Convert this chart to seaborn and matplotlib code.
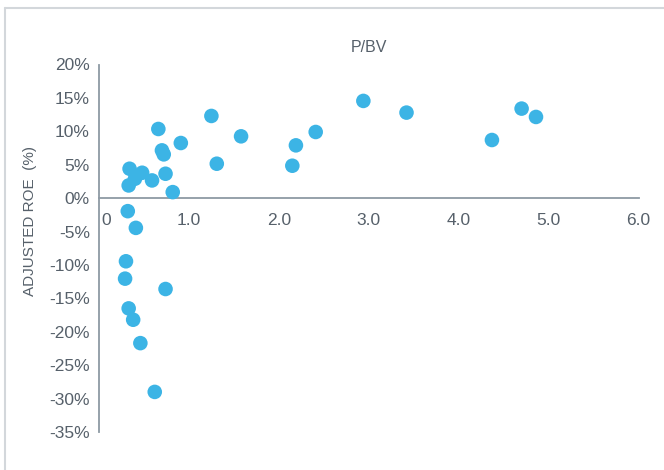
import matplotlib
matplotlib.use("Agg")
import matplotlib.pyplot as plt
import matplotlib.lines as mlines
import matplotlib.transforms as mtrans
import seaborn as sns
import pandas as pd

# -----------------------------------------------------------
# Data
# -----------------------------------------------------------
pbv = [0.66, 1.25, 0.91, 0.70, 0.72, 1.58, 1.31, 0.34, 0.48, 0.40, 0.74, 0.59,
       0.33, 0.82, 2.19, 2.15, 2.41, 2.94, 3.42, 4.37, 4.70, 4.86, 0.32, 0.41,
       0.30, 0.29, 0.74, 0.33, 0.38, 0.46, 0.62]
roe = [10.35, 12.3, 8.25, 7.15, 6.55, 9.25, 5.15, 4.4, 3.8, 2.9, 3.65, 2.65,
       1.9, 0.9, 7.9, 4.85, 9.9, 14.55, 12.8, 8.7, 13.4, 12.15, -1.95, -4.45,
       -9.45, -12.05, -13.6, -16.5, -18.2, -21.7, -29.0]

x_ticks = [0, 1, 2, 3, 4, 5, 6]
x_labels = ["0", "1.0", "2.0", "3.0", "4.0", "5.0", "6.0"]
y_ticks = [20, 15, 10, 5, 0, -5, -10, -15, -20, -25, -30, -35]
y_labels = [f"{v}%" for v in y_ticks]

df = pd.DataFrame({"pbv": pbv, "roe": roe})

# -----------------------------------------------------------
# Style
# -----------------------------------------------------------
sns.set_style("white")
plt.rcParams["font.family"] = ["Liberation Sans", "DejaVu Sans"]

AXIS_COL = "#8d9aa4"
TEXT_COL = "#56606a"
DOT_COL = "#3cb4e5"

fig = plt.figure(figsize=(6.64, 4.70), dpi=100)
ax = fig.add_axes([99 / 664, 38 / 470, 539.5 / 664, 367.5 / 470])

sns.scatterplot(data=df, x="pbv", y="roe", ax=ax, color=DOT_COL,
                s=110, edgecolor="none", linewidth=0, clip_on=False, zorder=3)

ax.set_xlim(0, 6)
ax.set_ylim(-35, 20)

# spines: left at x=0, bottom crossing at y=0
ax.spines["top"].set_visible(False)
ax.spines["right"].set_visible(False)
ax.spines["bottom"].set_position(("data", 0))
for side in ["left", "bottom"]:
    ax.spines[side].set_color(AXIS_COL)
    ax.spines[side].set_linewidth(1.3)

ax.set_xticks(x_ticks)
ax.set_xticklabels(x_labels)
ax.set_yticks(y_ticks)
ax.set_yticklabels(y_labels)
ax.tick_params(axis="both", direction="out", length=5.5, width=1.3,
               color=AXIS_COL, labelcolor=TEXT_COL, labelsize=12.5)
ax.tick_params(axis="x", pad=5)
ax.tick_params(axis="y", pad=1)

# nudge the "0" label away from the y axis
lbl0 = ax.get_xticklabels()[0]
lbl0.set_transform(lbl0.get_transform() + mtrans.ScaledTranslation(7 / 100, 0, fig.dpi_scale_trans))

ax.set_xlabel("")
ax.set_ylabel("")
ax.set_title("P/BV", color=TEXT_COL, fontsize=11.5, pad=9)

fig.text(30 / 664, 1 - 221 / 470, "ADJUSTED ROE  (%)", rotation=90,
         ha="center", va="center", color=TEXT_COL, fontsize=11)

# light frame on the left and top of the card
fig.add_artist(mlines.Line2D([5 / 664, 5 / 664], [0, 1 - 8 / 470],
                             transform=fig.transFigure, color="#d3d7db", lw=1.5))
fig.add_artist(mlines.Line2D([5 / 664, 1], [1 - 8 / 470, 1 - 8 / 470],
                             transform=fig.transFigure, color="#d3d7db", lw=1.5))

fig.savefig("out.png", dpi=100)
